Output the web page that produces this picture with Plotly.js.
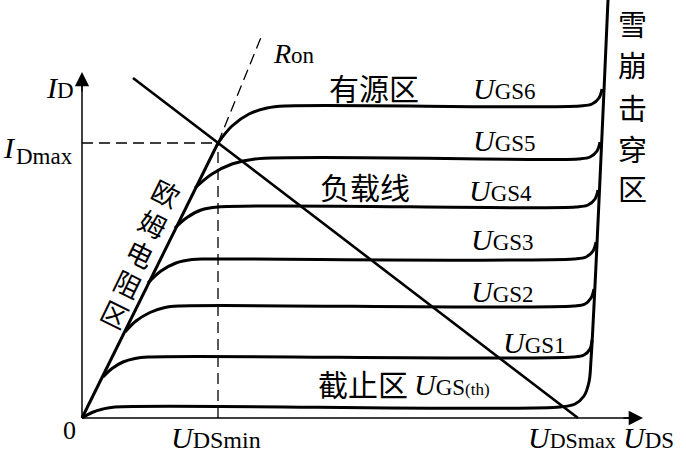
<!DOCTYPE html>
<html><head><meta charset="utf-8">
<script src="https://cdn.plot.ly/plotly-3.0.1.min.js"></script>
<style>html,body{margin:0;padding:0;background:#fff}</style>
</head><body><div id="chart" style="width:686px;height:455px"></div>
<script>
// Output characteristic values (arbitrary schematic units: U_DS horizontal, I_D vertical)
const curveNames = ['UGS(th)', 'UGS1', 'UGS2', 'UGS3', 'UGS4', 'UGS5', 'UGS6'];
const thX   = [0, 10, 21, 33, 478, 493, 502, 507, 509, 526];
const thY   = [0, 5.5, 9, 11, 11, 14, 22, 36, 58, 418];
const gs1X  = [21, 30, 41, 53, 66, 491, 502, 508, 510];
const gs1Y  = [41, 49.5, 56, 59.5, 61, 61, 63, 69, 78];
const gs2X  = [43, 54, 68, 83, 98, 492, 503, 509, 512];
const gs2Y  = [86, 97, 105.5, 110.5, 112, 112, 114, 120, 129];
const gs3X  = [66, 79, 94, 110, 126, 492, 504, 511, 514];
const gs3Y  = [135, 147, 155, 158.5, 159, 159, 161, 167, 176];
const gs4X  = [93, 105, 119, 136, 494, 506, 513, 516];
const gs4Y  = [190, 200.5, 208, 211, 211, 213, 219, 228];
const gs5X  = [113, 130, 150, 173, 496, 508, 515, 518];
const gs5Y  = [230, 244, 254, 259, 259, 261, 267, 276];
const gs6X  = [136, 150, 167, 185, 203, 498, 510, 517, 520];
const gs6Y  = [275, 292, 304, 310, 312, 312, 314, 320, 329];
const ohmicX = [0, 136];      const ohmicY = [0, 275];
const ronX   = [136, 180];    const ronY   = [275, 383];
const loadX  = [51, 496];     const loadY  = [340, 0];
const idmaxX = [0, 136];      const idmaxY = [275, 275];
const udsminX = [136, 136];   const udsminY = [0, 275];
const xAxisX = [0, 558];      const xAxisY = [0, 0];
const yAxisX = [0, 0];        const yAxisY = [0, 342];

const curvesX = [thX, gs1X, gs2X, gs3X, gs4X, gs5X, gs6X];
const curvesY = [thY, gs1Y, gs2Y, gs3Y, gs4Y, gs5Y, gs6Y];

const K = '#000';
const traces = [];
curvesX.forEach((cx, i) => traces.push({
  x: cx, y: curvesY[i], name: curveNames[i], mode: 'lines', hoverinfo: 'skip',
  line: {color: K, width: 3, shape: 'spline', smoothing: 1}
}));
function seg(x, y, w, dash) {
  traces.push({x: x, y: y, mode: 'lines', hoverinfo: 'skip',
    line: {color: K, width: w, dash: dash || 'solid'}});
}
seg(ohmicX, ohmicY, 3);
seg(loadX, loadY, 2.6);
seg(ronX, ronY, 1.3, '11px,6px');
seg(idmaxX, idmaxY, 1.3, '11px,6px');
seg(udsminX, udsminY, 1.3, '11px,6px');
seg(xAxisX, xAxisY, 1.5);
seg(yAxisX, yAxisY, 1.5);

const SERIF = 'Liberation Serif, Times New Roman, serif';
const CJK = 'Noto Sans CJK SC, sans-serif';
function txt(x, y, text, size, family, extra) {
  return Object.assign({x: x, y: y, xref: 'x', yref: 'y', text: text, showarrow: false,
    xanchor: 'left', yanchor: 'middle', font: {family: family, size: size, color: K}}, extra || {});
}
function ulab(x, y, sub, s) {
  return txt(x, y, '<i>U</i><span style="font-size:' + (s || 23) + 'px">' + sub + '</span>', 30, SERIF);
}
const ann = [
  // arrowheads
  {x: 561, y: 0, ax: 540, ay: 0, axref: 'x', ayref: 'y', xref: 'x', yref: 'y', text: '',
   showarrow: true, arrowhead: 2, arrowsize: 2.2, arrowwidth: 1.3, arrowcolor: K, standoff: 0},
  {x: 0, y: 346, ax: 0, ay: 325, axref: 'x', ayref: 'y', xref: 'x', yref: 'y', text: '',
   showarrow: true, arrowhead: 2, arrowsize: 2.2, arrowwidth: 1.3, arrowcolor: K, standoff: 0},
  txt(245, 331, '有源区', 30, CJK),
  txt(236, 232, '负载线', 30, CJK),
  txt(234, 35, '截止区', 30, CJK),
  ulab(389, 330, 'GS6'),
  ulab(389, 278, 'GS5'),
  ulab(385, 228, 'GS4'),
  ulab(387, 179, 'GS3'),
  ulab(387, 127, 'GS2'),
  ulab(419, 76, 'GS1'),
  txt(330, 34, '<i>U</i><span style="font-size:23px">GS</span><span style="font-size:17px">(th)</span>', 30, SERIF),
  txt(189, 365, '<i>R</i><span style="font-size:23px">on</span>', 28, SERIF),
  txt(-38, 331, '<i>I</i><span style="font-size:23px">D</span>', 30, SERIF),
  txt(-81, 271, '<i>I</i>', 30, SERIF),
  txt(-68, 262, 'Dmax', 23, SERIF),
  txt(-21, -12, '0', 26, SERIF),
  ulab(87, -19, 'DSmin', 24),
  ulab(444, -19, 'DSmax', 22),
  ulab(539, -19, 'DS', 23)
];
const vChars = ['雪', '崩', '击', '穿', '区'];
const vY = [395, 354, 311, 270, 230];
vChars.forEach((c, i) => ann.push(txt(550, vY[i], c, 29, CJK, {xanchor: 'center'})));
const oChars = ['欧', '姆', '电', '阻', '区'];
const oX = [84, 71, 58.5, 46, 33];
const oY = [226, 195, 165, 135, 105];
oChars.forEach((c, i) => ann.push(txt(oX[i], oY[i], c, 27, CJK, {xanchor: 'center', textangle: 26})));

const layout = {
  width: 686, height: 455, margin: {l: 0, r: 0, t: 0, b: 0},
  paper_bgcolor: '#fff', plot_bgcolor: '#fff', showlegend: false,
  xaxis: {range: [-82, 604], visible: false, fixedrange: true},
  yaxis: {range: [-37, 418], visible: false, fixedrange: true},
  annotations: ann
};
Plotly.newPlot('chart', traces, layout, {staticPlot: true, displayModeBar: false});
</script></body></html>
